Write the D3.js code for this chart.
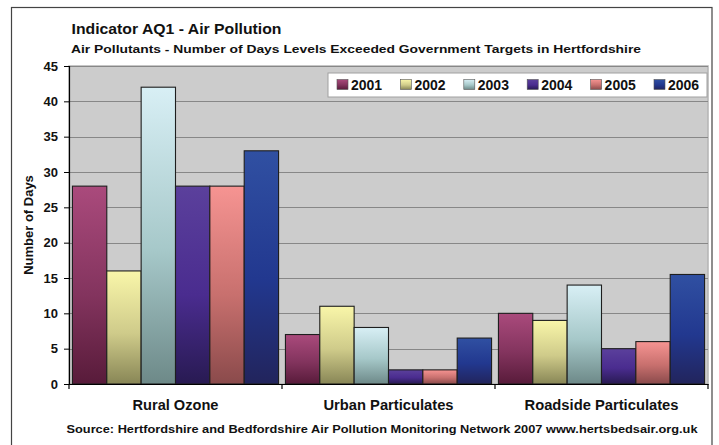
<!DOCTYPE html>
<html>
<head>
<meta charset="utf-8">
<script src="https://cdn.jsdelivr.net/npm/d3@7"></script>
<style>
html,body{margin:0;padding:0;background:#fff;}
svg{display:block;font-family:"Liberation Sans",Arial,sans-serif;font-weight:bold;}
</style>
</head>
<body>
<svg id="chart" width="719" height="445"></svg>
<script>
// ---- data ----
const categories = ["Rural Ozone", "Urban Particulates", "Roadside Particulates"];
const years = ["2001", "2002", "2003", "2004", "2005", "2006"];
const v2001 = [28, 7, 10];
const v2002 = [16, 11, 9];
const v2003 = [42, 8, 14];
const v2004 = [28, 2, 5];
const v2005 = [28, 2, 6];
const v2006 = [33, 6.5, 15.5];
const yTicks = [0, 5, 10, 15, 20, 25, 30, 35, 40, 45];
const titleText = "Indicator AQ1 - Air Pollution";
const subtitleText = "Air Pollutants - Number of Days Levels Exceeded Government Targets in Hertfordshire";
const sourceText = "Source: Hertfordshire and Bedfordshire Air Pollution Monitoring Network 2007 www.hertsbedsair.org.uk";
const yTitle = "Number of Days";

const seriesValues = [v2001, v2002, v2003, v2004, v2005, v2006];
// gradient stops (top, middle, bottom) per year
const gradStops = [
  ["#AA4A7C", "#83345E", "#581B3A"],
  ["#F9F6A9", "#CFCB8A", "#888656"],
  ["#D8EFF5", "#A6C8C9", "#6D8988"],
  ["#5B409C", "#4A2C8F", "#281A52"],
  ["#F69492", "#C8706E", "#8A4A4B"],
  ["#3050A2", "#22388F", "#22245C"]
];

const svg = d3.select("#chart");
const defs = svg.append("defs");
years.forEach((y, i) => {
  const g = defs.append("linearGradient")
    .attr("id", "g" + y).attr("x1", 0).attr("y1", 0).attr("x2", 0).attr("y2", 1);
  g.append("stop").attr("offset", "0%").attr("stop-color", gradStops[i][0]);
  g.append("stop").attr("offset", "55%").attr("stop-color", gradStops[i][1]);
  g.append("stop").attr("offset", "100%").attr("stop-color", gradStops[i][2]);
});

// outer chart border
svg.append("rect").attr("x", 11.5).attr("y", 7.5).attr("width", 700.5).attr("height", 450)
  .attr("fill", "#fff").attr("stroke", "#444").attr("stroke-width", 1.2);

const m = {left: 69, right: 708, top: 66, bottom: 384};

const x0 = d3.scaleBand().domain(categories).range([m.left, m.right]).padding(0);
const x1 = d3.scaleBand().domain(years).range([0, x0.bandwidth()]).paddingInner(0).paddingOuter(0.1);
const y = d3.scaleLinear().domain([0, 45]).range([m.bottom, m.top]);

// plot background
svg.append("rect").attr("x", m.left).attr("y", m.top)
  .attr("width", m.right - m.left).attr("height", m.bottom - m.top)
  .attr("fill", "#CCCCCC").attr("stroke", "#B4B4B4").attr("stroke-width", 1.5);

// gridlines
svg.append("g").selectAll("line").data(yTicks.filter(t => t > 0)).join("line")
  .attr("x1", m.left).attr("x2", m.right)
  .attr("y1", d => Math.round(y(d)) + 0.5).attr("y2", d => Math.round(y(d)) + 0.5)
  .attr("stroke", "#878787").attr("stroke-width", 1);

// legend
const lg = svg.append("g");
lg.append("rect").attr("x", 328).attr("y", 73).attr("width", 379).attr("height", 24)
  .attr("fill", "#fff").attr("stroke", "#A0A0A0").attr("stroke-width", 1);
const legendX = d3.scaleLinear().domain([0, 5]).range([337, 654]);
years.forEach((yr, i) => {
  lg.append("rect").attr("x", legendX(i)).attr("y", 79.5).attr("width", 11).attr("height", 10)
    .attr("fill", "url(#g" + yr + ")").attr("stroke", "#555").attr("stroke-width", 0.6);
  lg.append("text").attr("x", legendX(i) + 14).attr("y", 89.5)
    .attr("font-size", 14).attr("fill", "#111").text(yr);
});

// bars
const groups = svg.append("g").selectAll("g").data(categories).join("g")
  .attr("transform", d => `translate(${x0(d)},0)`);
groups.selectAll("rect")
  .data((c, ci) => years.map((yr, i) => ({yr, v: seriesValues[i][ci]})))
  .join("rect")
  .attr("x", d => x1(d.yr))
  .attr("y", d => y(d.v))
  .attr("width", x1.bandwidth())
  .attr("height", d => y(0) - y(d.v))
  .attr("fill", d => "url(#g" + d.yr + ")")
  .attr("stroke", "#1e1e1e").attr("stroke-width", 1.1);

// y axis
const yAxis = d3.axisLeft(y).tickValues(yTicks).tickSize(5).tickPadding(6);
const ya = svg.append("g").attr("transform", `translate(${m.left},0)`).call(yAxis);
ya.select(".domain").attr("stroke", "#000").attr("stroke-width", 1.2);
ya.selectAll(".tick line").attr("stroke", "#000");
ya.selectAll(".tick text").attr("font-size", 13).attr("font-family", "Liberation Sans, Arial, sans-serif")
  .attr("font-weight", "bold").attr("fill", "#111");

// x axis
const xAxis = d3.axisBottom(x0).tickSize(0).tickFormat("");
const xa = svg.append("g").attr("transform", `translate(0,${m.bottom})`).call(xAxis);
xa.select(".domain").attr("stroke", "#000").attr("stroke-width", 1.2);
const bounds = [m.left, x0(categories[1]), x0(categories[2]), m.right];
xa.selectAll(".sep").data(bounds).join("line").attr("class", "sep")
  .attr("x1", d => d).attr("x2", d => d).attr("y1", 0).attr("y2", 5)
  .attr("stroke", "#000").attr("stroke-width", 1.2);

// category labels
const catWidths = [86, 130, 154];
svg.append("g").selectAll("text").data(categories).join("text")
  .attr("x", d => x0(d) + x0.bandwidth() / 2)
  .attr("y", 410).attr("text-anchor", "middle").attr("font-size", 14).attr("fill", "#111")
  .attr("textLength", (d, i) => catWidths[i]).attr("lengthAdjust", "spacingAndGlyphs")
  .text(d => d);

// titles
svg.append("text").attr("x", 71.5).attr("y", 34).attr("font-size", 14.5).attr("fill", "#111")
  .attr("textLength", 210).attr("lengthAdjust", "spacingAndGlyphs").text(titleText);
svg.append("text").attr("x", 71).attr("y", 53).attr("font-size", 11).attr("fill", "#111")
  .attr("textLength", 570).attr("lengthAdjust", "spacingAndGlyphs").text(subtitleText);

// y title
svg.append("text").attr("transform", "translate(33,225) rotate(-90)")
  .attr("text-anchor", "middle").attr("font-size", 13).attr("fill", "#111").text(yTitle);

// source
svg.append("text").attr("x", 382).attr("y", 433).attr("text-anchor", "middle")
  .attr("font-size", 11.5).attr("fill", "#111")
  .attr("textLength", 631).attr("lengthAdjust", "spacingAndGlyphs").text(sourceText);
</script>
</body>
</html>
